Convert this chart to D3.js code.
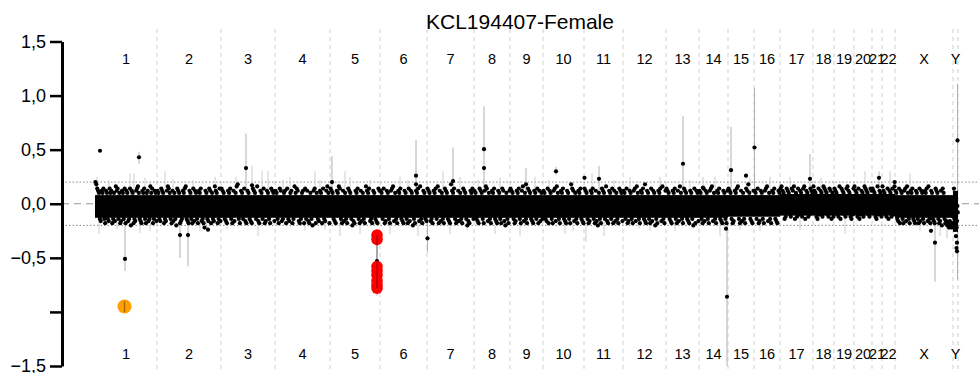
<!DOCTYPE html>
<html>
<head>
<meta charset="utf-8">
<script src="https://cdn.jsdelivr.net/npm/d3@7"></script>
<style>
  html, body { margin: 0; padding: 0; background: #fff; }
  svg { display: block; font-family: "Liberation Sans", Arial, sans-serif; }
</style>
</head>
<body>
<div id="chart"></div>
<script>
// Copy number profile – one sample, bins per chromosome

const title = 'KCL194407-Female';

const chromNames = ['1','2','3','4','5','6','7','8','9','10','11','12','13','14','15','16','17','18','19','20','21','22','X','Y'];
// relative plotted width of every chromosome (number of bins, scaled)
const chromSpans = [62, 64, 54, 55, 50, 47, 47, 36, 33, 41, 39, 43, 33, 29, 26, 26, 33, 21, 20, 18, 10, 13, 58, 5];

// dense core of the bin cloud per chromosome (log2 ratio)
const bandHigh = [0.08, 0.08, 0.08, 0.08, 0.08, 0.08, 0.08, 0.08, 0.08, 0.08, 0.08, 0.08, 0.08, 0.08, 0.08, 0.08, 0.09, 0.09, 0.09, 0.09, 0.09, 0.09, 0.08, 0.12];
const bandLow  = [-0.13, -0.13, -0.13, -0.13, -0.13, -0.13, -0.13, -0.13, -0.13, -0.13, -0.13, -0.13, -0.13, -0.13, -0.12, -0.12, -0.11, -0.11, -0.11, -0.11, -0.11, -0.11, -0.13, -0.26];

// bin values along each chromosome, one letter per bin: 'm' = 0, each step = 0.02
const binCodes = [
  'wvtsrfesrtfdsrfetrsdfreustfrdesrftdsreftcsrdfesturfedsrtfdrsefurtdfsre',
  'srfetsrdfesutrfdserfctsrdefsrtufedsrfdtesrfdsrtefdbsrfetsdrfeusrdfte',
  'tsrfedsrtfdseruvfdsrftedsrfedtsrfuedsrftdesrfdtsre',
  'srfdtsefrsdtfersdfurtsedfrsdtfsedrfcstdrfesrdtfesurd',
  'tsrfedsrutfdserfdtsrfcedsrtfdserfdusrtefdsrfedts',
  'srftdesrfdstuerfdsrtfedsrfdtesrcfdsrteufdsrfe',
  'tsrefdsrtfudserfdtsrfedvsrtfdeserfdtsrfcedsrtf',
  'srfedtsrfdsuterfdsrtfedsrfdtsecrfds',
  'tsrfdesrtfdsuerfdtsrfedsrftdserf',
  'srfetdsrfdsteurfdsrtfedsrfdvtserfdsrtfed',
  'tsrfdesrtfdsecrfdtsrfuedsrftdserfdtsre',
  'srftdesrfdsteurfdsrtfedsrfdtesrcfdsrteufds',
  'tsrfedsrtfdseurfdtsrfedsrfctdsre',
  'srfdtesrfdstuerfdsrtfedsrfds',
  'tsrfdesrtufdserfdtsvrfeds',
  'srftdesrfdstuerfdsrtfedsr',
  'tusrfgtsrhgtsufrgthsrgtufsrghtsr',
  'usrgfthsrgutsrhgtsfrg',
  'tsrhguftsrhgtusrgfht',
  'usrgtfhsrgutsrhgts',
  'tsrgfuhsrg',
  'usrhgtfsrgthu',
  'srfetdsrfdsteurfdsrtfedsrfdtesrfdsrteufdsrfedtsrfdesctrfdecdbecbd',
  'kgtfnhdqjbeli'
];

// isolated bins: [chromosome, position in chromosome, value, low, high]
const outliers = [
  ['1', 5, 0.49, 0.49, 0.49],
  ['1', 44, 0.43, 0.37, 0.48],
  ['1', 30, -0.51, -0.62, -0.2],
  ['2', 23, -0.29, -0.5, -0.15],
  ['2', 31, -0.29, -0.58, -0.15],
  ['2', 51, -0.24, -0.24, -0.24],
  ['3', 25, 0.33, 0.1, 0.65],
  ['3', 31, 0.17, 0.17, 0.17],
  ['5', 2, 0.2, 0.1, 0.44],
  ['5', 47, -0.53, -0.85, -0.25],
  ['6', 36, 0.26, 0.0, 0.59],
  ['6', 36, 0.18, 0.18, 0.18],
  ['7', 26, 0.21, 0.1, 0.52],
  ['7', 0.5, -0.32, -0.45, -0.1],
  ['8', 10, 0.505, 0.1, 0.9],
  ['8', 10, 0.33, 0.33, 0.33],
  ['9', 16, 0.18, 0.1, 0.33],
  ['10', 13, 0.3, 0.27, 0.34],
  ['11', 0.5, 0.24, 0.24, 0.24],
  ['11', 15, 0.23, 0.1, 0.35],
  ['12', 22, 0.18, 0.18, 0.18],
  ['13', 17, 0.37, 0.1, 0.81],
  ['14', 4, 0.15, 0.15, 0.15],
  ['14', 28, -0.86, -1.5, -0.1],
  ['14', 27, -0.23, -0.23, -0.23],
  ['15', 3, 0.31, 0.1, 0.71],
  ['15', 18, 0.26, 0.26, 0.26],
  ['16', 0.5, 0.52, 0.1, 1.07],
  ['17', 30, 0.23, 0.1, 0.46],
  ['21', 7, 0.24, 0.1, 0.3],
  ['22', 12.7, 0.2, 0.2, 0.2],
  ['X', 40, -0.36, -0.72, -0.1],
  ['X', 36, -0.25, -0.25, -0.25],
  ['Y', 4.5, 0.585, -0.7, 1.11],
  ['Y', 3, -0.3, -0.3, -0.3],
  ['Y', 4, -0.36, -0.36, -0.36],
  ['Y', 3.5, -0.41, -0.41, -0.41],
  ['Y', 4, -0.44, -0.44, -0.44]
];

// faint confidence whiskers of single bins: [chromosome, position, low, high]
const whiskers = [
  ['1', 2, -0.05, 0.25], ['1', 35, 0, 0.28], ['1', 39, 0, 0.28], ['1', 4, -0.28, -0.05], ['1', 45, -0.27, 0], ['1', 55, -0.25, 0.2],
  ['1', 14, 0, 0.22], ['1', 22, -0.24, 0], ['1', 50, 0, 0.24],
  ['2', 58, 0, 0.25], ['2', 8, 0, 0.3], ['2', 43, -0.25, 0], ['2', 16, 0, 0.23], ['2', 36, 0, 0.22], ['2', 50, -0.24, 0],
  ['3', 31, 0, 0.35], ['3', 41, 0, 0.3], ['3', 47, 0, 0.3], ['3', 37, -0.3, 0], ['3', 15, 0, 0.25], ['3', 6, -0.23, 0],
  ['4', 15, 0, 0.25], ['4', 30, -0.25, 0], ['4', 40, 0, 0.3], ['4', 45, 0, 0.22], ['4', 8, 0, 0.22], ['4', 50, -0.24, 0],
  ['5', 15, 0, 0.3], ['5', 10, -0.3, 0], ['5', 30, -0.28, 0], ['5', 20, 0, 0.25], ['5', 40, 0, 0.22],
  ['6', 10, -0.28, 0], ['6', 20, 0, 0.25], ['6', 38, -0.3, 0], ['6', 28, 0, 0.22],
  ['7', 16, 0, 0.3], ['7', 23, -0.28, 0], ['7', 33, 0, 0.25], ['7', 40, -0.24, 0],
  ['8', 21, -0.28, 0], ['8', 26, 0, 0.24], ['8', 4, 0, 0.22],
  ['9', 10, -0.3, 0], ['9', 25, 0, 0.25],
  ['10', 22, -0.28, 0], ['10', 30, -0.25, 0], ['10', 6, 0, 0.22],
  ['11', 2, -0.35, 0], ['11', 20, -0.3, 0], ['11', 8, 0, 0.28], ['11', 30, 0, 0.22],
  ['12', 7, 0, 0.25], ['12', 27, -0.25, 0], ['12', 37, 0, 0.25], ['12', 16, -0.23, 0],
  ['13', 9, -0.25, 0], ['13', 24, 0, 0.22],
  ['14', 4, 0, 0.25], ['14', 16, 0, 0.25], ['14', 21, -0.3, 0],
  ['15', 12, -0.24, 0], ['15', 22, 0, 0.24],
  ['16', 6, -0.25, 0], ['16', 16, 0, 0.25],
  ['17', 10, 0, 0.25], ['17', 20, -0.25, 0], ['18', 8, 0, 0.24],
  ['19', 11, -0.28, 0], ['20', 11, 0, 0.3], ['22', 8, 0, 0.3],
  ['X', 15, 0, 0.28], ['X', 45, -0.3, 0], ['X', 25, -0.25, 0], ['X', 52, -0.32, 0]
];

// highlighted loss on chromosome 5 and on chromosome 1
const redChrom = '5';
const redPos = 47;
const redValues = [-0.29, -0.33, -0.58, -0.62, -0.66, -0.71, -0.75, -0.78];
const orangeBin = ['1', 29.5, -0.95, -1.0, -0.9];

const yTicks = [-1.5, -1.0, -0.5, 0, 0.5, 1.0, 1.5];

const width = 979, height = 373;

const svg = d3.select('#chart').append('svg')
  .attr('width', width)
  .attr('height', height)
  .attr('viewBox', [0, 0, width, height].join(' '));

const offsets = d3.cumsum([0, ...chromSpans]);
const total = d3.sum(chromSpans);

const x = d3.scaleLinear().domain([0, total]).range([95, 958]);
const y = d3.scaleLinear().domain([-1.5, 1.5]).range([366, 41.5]);
const gx = (chrom, pos) => x(offsets[chromNames.indexOf(chrom)] + pos);

// chromosome boundaries
svg.append('g')
  .selectAll('line')
  .data(chromNames.map((c, i) => offsets[i + 1]))
  .enter().append('line')
    .attr('x1', d => x(d)).attr('x2', d => x(d))
    .attr('y1', 29).attr('y2', height)
    .attr('stroke', '#cfcfcf')
    .attr('stroke-dasharray', '4,4');

// reference lines
svg.append('line')
  .attr('x1', 62).attr('x2', width)
  .attr('y1', y(0)).attr('y2', y(0))
  .attr('stroke', '#999').attr('stroke-dasharray', '7,5');
svg.append('g')
  .selectAll('line')
  .data([-0.2, 0.2])
  .enter().append('line')
    .attr('x1', 62).attr('x2', width)
    .attr('y1', d => y(d)).attr('y2', d => y(d))
    .attr('stroke', '#888').attr('stroke-dasharray', '1.5,2');

// faint whiskers
svg.append('g')
  .selectAll('line')
  .data(whiskers)
  .enter().append('line')
    .attr('x1', d => gx(d[0], d[1])).attr('x2', d => gx(d[0], d[1]))
    .attr('y1', d => y(d[2])).attr('y2', d => y(d[3]))
    .attr('stroke', '#cccccc');

// outlier whiskers
svg.append('g')
  .selectAll('line')
  .data(outliers.filter(d => d[3] !== d[4]))
  .enter().append('line')
    .attr('x1', d => gx(d[0], d[1])).attr('x2', d => gx(d[0], d[1]))
    .attr('y1', d => y(d[3])).attr('y2', d => y(d[4]))
    .attr('stroke', '#b0b0b0');

// dense core of the bins
svg.append('g')
  .selectAll('rect')
  .data(chromNames)
  .enter().append('rect')
    .attr('x', (c, i) => x(offsets[i]))
    .attr('width', (c, i) => x(offsets[i + 1]) - x(offsets[i]))
    .attr('y', (c, i) => y(bandHigh[i]))
    .attr('height', (c, i) => y(bandLow[i]) - y(bandHigh[i]))
    .attr('fill', '#000');

// bins
const bins = [];
binCodes.forEach((code, i) => {
  const n = code.length;
  for (let k = 0; k < n; k++) {
    bins.push({
      x: offsets[i] + (k + 0.5) / n * chromSpans[i],
      v: (code.charCodeAt(k) - 109) * 0.02
    });
  }
});

svg.append('g')
  .selectAll('circle')
  .data(bins)
  .enter().append('circle')
    .attr('cx', d => x(d.x))
    .attr('cy', d => y(d.v))
    .attr('r', 2.1)
    .attr('fill', '#000');

svg.append('g')
  .selectAll('circle')
  .data(outliers)
  .enter().append('circle')
    .attr('cx', d => gx(d[0], d[1]))
    .attr('cy', d => y(d[2]))
    .attr('r', 2.1)
    .attr('fill', '#000');

// highlighted bins
svg.append('g')
  .selectAll('circle')
  .data(redValues)
  .enter().append('circle')
    .attr('cx', gx(redChrom, redPos))
    .attr('cy', d => y(d))
    .attr('r', 5.8)
    .attr('fill', '#ff0000');
svg.append('line')
  .attr('x1', gx(redChrom, redPos)).attr('x2', gx(redChrom, redPos))
  .attr('y1', y(d3.max(redValues))).attr('y2', y(d3.min(redValues)))
  .attr('stroke', '#000').attr('stroke-opacity', 0.45);

svg.append('circle')
  .attr('cx', gx(orangeBin[0], orangeBin[1]))
  .attr('cy', y(orangeBin[2]))
  .attr('r', 7)
  .attr('fill', '#ff9f00');
svg.append('line')
  .attr('x1', gx(orangeBin[0], orangeBin[1])).attr('x2', gx(orangeBin[0], orangeBin[1]))
  .attr('y1', y(orangeBin[3])).attr('y2', y(orangeBin[4]))
  .attr('stroke', '#000').attr('stroke-opacity', 0.35).attr('stroke-width', 1.5);

// y axis
const fmt = d3.formatLocale({ decimal: ',', thousands: '.', grouping: [3], currency: ['', ''], minus: '\u2212' }).format('.1f');
const yAxis = svg.append('g')
  .attr('transform', 'translate(62,0)')
  .call(d3.axisLeft(y)
    .tickValues(yTicks)
    .tickSize(12)
    .tickSizeOuter(0)
    .tickPadding(4)
    .tickFormat(d => d === -1 ? '' : fmt(d)));
yAxis.select('.domain').attr('stroke', '#000').attr('stroke-width', 3);
yAxis.selectAll('.tick line').attr('stroke', '#000').attr('stroke-width', 2.5);
yAxis.selectAll('.tick text')
  .attr('fill', '#000')
  .style('font-size', '18px')
  .style('font-family', '"Liberation Sans", Arial, sans-serif');

// chromosome labels, top and bottom
[63.5, 358.5].forEach(yy => {
  svg.append('g')
    .selectAll('text')
    .data(chromNames)
    .enter().append('text')
      .attr('x', (c, i) => x(offsets[i] + chromSpans[i] / 2))
      .attr('y', yy)
      .attr('text-anchor', 'middle')
      .style('font-size', '14.5px')
      .text(c => c);
});

svg.append('text')
  .attr('x', 520)
  .attr('y', 29)
  .attr('text-anchor', 'middle')
  .style('font-size', '21px')
  .text(title);
</script>
</body>
</html>
